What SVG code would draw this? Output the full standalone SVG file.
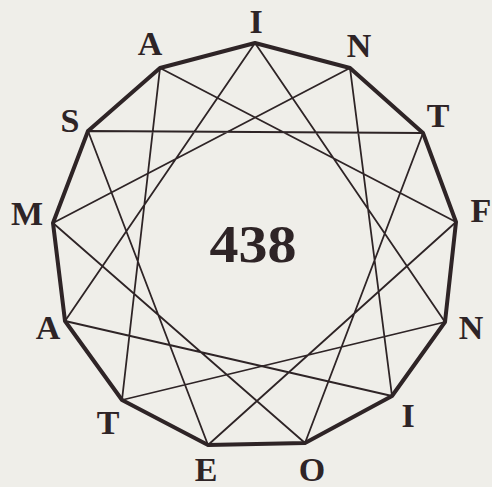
<svg xmlns="http://www.w3.org/2000/svg" width="492" height="487" viewBox="0 0 492 487">
<style>
.bg{fill:#efeee9}
.rim{fill:none;stroke:#2e2426;stroke-width:4;stroke-linejoin:round}
.ch{fill:none;stroke:#2e2426;stroke-width:1.8;stroke-linejoin:round}
.lb{font-family:"Liberation Serif","DejaVu Serif",serif;font-weight:bold;font-size:34px;fill:#2e2426;text-anchor:middle}
.num{font-family:"Liberation Serif","DejaVu Serif",serif;font-weight:bold;font-size:52px;fill:#2e2426;text-anchor:middle}
</style>
<rect class="bg" x="0" y="0" width="492" height="487"/>
<g id="outline">
<polygon class="rim" points="255,43 350,68 423,133 456,222 445,322 392,396 305,443 208,445 122,400 65,321 53,223 88,131 160,68"/>
</g>
<g id="connectors">
<polygon class="ch" points="88,131 423,133 305,443 53,223 350,68 392,396 65,321 255,43 445,322 122,400 160,68 456,222 208,445"/>
</g>
<g id="node-I-top"><text class="lb" x="256" y="33">I</text></g>
<g id="node-N-top"><text class="lb" x="359" y="57">N</text></g>
<g id="node-T-right"><text class="lb" x="438" y="127">T</text></g>
<g id="node-F"><text class="lb" x="481" y="222">F</text></g>
<g id="node-N-right"><text class="lb" x="471" y="339">N</text></g>
<g id="node-I-bottom"><text class="lb" x="408" y="427">I</text></g>
<g id="node-O"><text class="lb" x="312" y="481">O</text></g>
<g id="node-E"><text class="lb" x="206" y="481">E</text></g>
<g id="node-T-bottom"><text class="lb" x="108" y="434">T</text></g>
<g id="node-A-left"><text class="lb" x="48" y="339">A</text></g>
<g id="node-M"><text class="lb" x="27" y="225">M</text></g>
<g id="node-S"><text class="lb" x="70" y="132">S</text></g>
<g id="node-A-top"><text class="lb" x="150" y="55">A</text></g>
<g id="center"><text class="num" x="253" y="262" textLength="87" lengthAdjust="spacingAndGlyphs">438</text></g>
</svg>
